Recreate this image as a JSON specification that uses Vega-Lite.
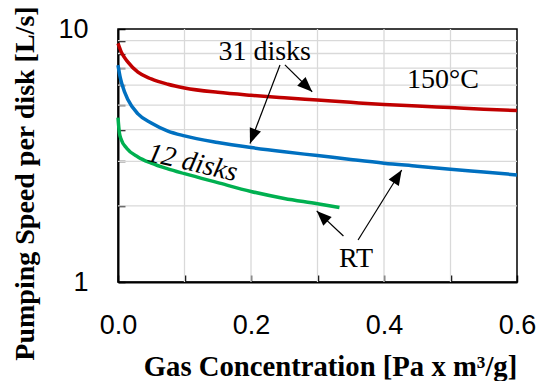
{
  "$schema": "https://vega.github.io/schema/vega-lite/v6.json",
  "width": 399,
  "height": 253,
  "autosize": {"type": "none"},
  "padding": {"left": 118, "top": 29, "right": 22, "bottom": 99},
  "background": "white",
  "config": {
    "view": {"stroke": "black", "strokeWidth": 1.5, "fill": "white"},
    "axis": {
      "grid": false,
      "domainColor": "black",
      "domainWidth": 2,
      "tickColor": "black",
      "tickWidth": 1.5,
      "labelColor": "black",
      "labelFont": "Liberation Sans",
      "labelFontSize": 27,
      "labelOverlap": false,
      "labelFlush": false,
      "titleColor": "black",
      "titleFont": "Liberation Serif",
      "titleFontWeight": "bold"
    }
  },
  "datasets": {
    "gridx": [{"g": 0.1}, {"g": 0.2}, {"g": 0.3}, {"g": 0.4}, {"g": 0.5}],
    "gridy": [{"g": 2}, {"g": 3}, {"g": 4}, {"g": 5}, {"g": 6}, {"g": 7}, {"g": 8}, {"g": 9}],
    "curves": [
      {"series": "150°C 31 disks", "x": 0, "s": 8.77},
      {"series": "150°C 31 disks", "x": 0.005, "s": 8.1},
      {"series": "150°C 31 disks", "x": 0.015, "s": 7.4},
      {"series": "150°C 31 disks", "x": 0.03, "s": 6.75},
      {"series": "150°C 31 disks", "x": 0.05, "s": 6.35},
      {"series": "150°C 31 disks", "x": 0.075, "s": 6.05},
      {"series": "150°C 31 disks", "x": 0.1, "s": 5.85},
      {"series": "150°C 31 disks", "x": 0.15, "s": 5.62},
      {"series": "150°C 31 disks", "x": 0.2, "s": 5.47},
      {"series": "150°C 31 disks", "x": 0.25, "s": 5.35},
      {"series": "150°C 31 disks", "x": 0.3, "s": 5.24},
      {"series": "150°C 31 disks", "x": 0.35, "s": 5.13},
      {"series": "150°C 31 disks", "x": 0.4, "s": 5.03},
      {"series": "150°C 31 disks", "x": 0.45, "s": 4.96},
      {"series": "150°C 31 disks", "x": 0.5, "s": 4.89},
      {"series": "150°C 31 disks", "x": 0.55, "s": 4.82},
      {"series": "150°C 31 disks", "x": 0.6, "s": 4.76},
      {"series": "RT 31 disks", "x": 0, "s": 7.2},
      {"series": "RT 31 disks", "x": 0.003, "s": 6.5},
      {"series": "RT 31 disks", "x": 0.006, "s": 6.05},
      {"series": "RT 31 disks", "x": 0.015, "s": 5.25},
      {"series": "RT 31 disks", "x": 0.03, "s": 4.62},
      {"series": "RT 31 disks", "x": 0.05, "s": 4.25},
      {"series": "RT 31 disks", "x": 0.075, "s": 3.95},
      {"series": "RT 31 disks", "x": 0.1, "s": 3.78},
      {"series": "RT 31 disks", "x": 0.15, "s": 3.56},
      {"series": "RT 31 disks", "x": 0.2, "s": 3.4},
      {"series": "RT 31 disks", "x": 0.25, "s": 3.27},
      {"series": "RT 31 disks", "x": 0.3, "s": 3.16},
      {"series": "RT 31 disks", "x": 0.35, "s": 3.05},
      {"series": "RT 31 disks", "x": 0.4, "s": 2.95},
      {"series": "RT 31 disks", "x": 0.45, "s": 2.87},
      {"series": "RT 31 disks", "x": 0.5, "s": 2.79},
      {"series": "RT 31 disks", "x": 0.55, "s": 2.72},
      {"series": "RT 31 disks", "x": 0.6, "s": 2.65},
      {"series": "RT 12 disks", "x": 0, "s": 4.46},
      {"series": "RT 12 disks", "x": 0.002, "s": 3.9},
      {"series": "RT 12 disks", "x": 0.005, "s": 3.65},
      {"series": "RT 12 disks", "x": 0.013, "s": 3.38},
      {"series": "RT 12 disks", "x": 0.03, "s": 3.12},
      {"series": "RT 12 disks", "x": 0.05, "s": 2.95},
      {"series": "RT 12 disks", "x": 0.075, "s": 2.8},
      {"series": "RT 12 disks", "x": 0.1, "s": 2.68},
      {"series": "RT 12 disks", "x": 0.15, "s": 2.47},
      {"series": "RT 12 disks", "x": 0.2, "s": 2.28},
      {"series": "RT 12 disks", "x": 0.25, "s": 2.14},
      {"series": "RT 12 disks", "x": 0.3, "s": 2.04},
      {"series": "RT 12 disks", "x": 0.333, "s": 1.97}
    ],
    "arrows": [
      {"id": "a1", "x": 0.251, "y": 7.21, "x2": 0.292, "y2": 5.65},
      {"id": "a2", "x": 0.2436, "y": 7.21, "x2": 0.1985, "y2": 3.53},
      {"id": "a3", "x": 0.361, "y": 1.466, "x2": 0.4266, "y2": 2.77},
      {"id": "a4", "x": 0.339, "y": 1.52, "x2": 0.2988, "y2": 1.91}
    ],
    "notes": [
      {"text": "31 disks", "x": 0.2206, "y": 7.54},
      {"text": "150°C", "x": 0.4887, "y": 5.83},
      {"text": "RT", "x": 0.358, "y": 1.143}
    ],
    "italic": [
      {"text": "12 disks", "x": 0.112, "y": 2.95}
    ]
  },
  "layer": [
    {
      "data": {"name": "gridx"},
      "mark": {"type": "rule", "color": "#d9d9d9", "strokeWidth": 1.3},
      "encoding": {
        "x": {"field": "g", "type": "quantitative"}
      }
    },
    {
      "data": {"name": "gridy"},
      "mark": {"type": "rule", "color": "#d9d9d9", "strokeWidth": 1.3},
      "encoding": {
        "y": {"field": "g", "type": "quantitative"}
      }
    },
    {
      "data": {"name": "curves"},
      "mark": {"type": "line", "strokeWidth": 3.5, "interpolate": "monotone"},
      "encoding": {
        "x": {
          "field": "x", "type": "quantitative",
          "scale": {"domain": [0, 0.6], "nice": false, "zero": false},
          "axis": {
            "grid": false,
            "tickColor": "black",
            "domainColor": "black",
            "tickCount": 6,
            "tickSize": -7,
            "format": ".1f",
            "labelExpr": "round(datum.value*10)%2==0 ? datum.label : ''",
            "labelBaseline": "alphabetic",
            "labelPadding": 58,
            "title": "Gas Concentration [Pa x m³/g]",
            "titleFontSize": 28.7,
            "titleX": 212,
            "titleY": 93,
            "titleAlign": "center",
            "titleBaseline": "alphabetic"
          }
        },
        "y": {
          "field": "s", "type": "quantitative",
          "scale": {"type": "log", "domain": [1, 10], "nice": false},
          "axis": {
            "grid": false,
            "tickColor": "black",
            "domainColor": "black",
            "tickCount": 10,
            "tickSize": -7,
            "format": "d",
            "labelExpr": "datum.value==1 || datum.value==10 ? datum.label : ''",
            "labelBaseline": "middle",
            "labelAlign": "right",
            "labelPadding": 37,
            "title": "Pumping Speed per disk [L/s]",
            "titleFontSize": 28,
            "titleAngle": 270,
            "titleX": -85,
            "titleY": 154,
            "titleAlign": "center",
            "titleBaseline": "alphabetic"
          }
        },
        "color": {
          "field": "series", "type": "nominal",
          "scale": {"domain": ["150°C 31 disks", "RT 31 disks", "RT 12 disks"], "range": ["#c00000", "#0070c0", "#00b050"]},
          "legend": null
        }
      }
    },
    {
      "data": {"name": "arrows"},
      "mark": {"type": "rule", "color": "black", "strokeWidth": 1.2},
      "encoding": {
        "x": {"field": "x", "type": "quantitative"},
        "y": {"field": "y", "type": "quantitative"},
        "x2": {"field": "x2"},
        "y2": {"field": "y2"}
      }
    },
    {
      "data": {"name": "arrows"},
      "transform": [{"filter": "datum.id == 'a1'"}],
      "mark": {"type": "point", "shape": "M0,0L0.8,2L-0.8,2Z", "filled": true, "color": "black", "opacity": 1, "size": 225, "strokeWidth": 0, "angle": 134},
      "encoding": {
        "x": {"field": "x2", "type": "quantitative"},
        "y": {"field": "y2", "type": "quantitative"}
      }
    },
    {
      "data": {"name": "arrows"},
      "transform": [{"filter": "datum.id == 'a2'"}],
      "mark": {"type": "point", "shape": "M0,0L0.8,2L-0.8,2Z", "filled": true, "color": "black", "opacity": 1, "size": 225, "strokeWidth": 0, "angle": 201},
      "encoding": {
        "x": {"field": "x2", "type": "quantitative"},
        "y": {"field": "y2", "type": "quantitative"}
      }
    },
    {
      "data": {"name": "arrows"},
      "transform": [{"filter": "datum.id == 'a3'"}],
      "mark": {"type": "point", "shape": "M0,0L0.8,2L-0.8,2Z", "filled": true, "color": "black", "opacity": 1, "size": 225, "strokeWidth": 0, "angle": 32},
      "encoding": {
        "x": {"field": "x2", "type": "quantitative"},
        "y": {"field": "y2", "type": "quantitative"}
      }
    },
    {
      "data": {"name": "arrows"},
      "transform": [{"filter": "datum.id == 'a4'"}],
      "mark": {"type": "point", "shape": "M0,0L0.8,2L-0.8,2Z", "filled": true, "color": "black", "opacity": 1, "size": 225, "strokeWidth": 0, "angle": 314},
      "encoding": {
        "x": {"field": "x2", "type": "quantitative"},
        "y": {"field": "y2", "type": "quantitative"}
      }
    },
    {
      "data": {"name": "notes"},
      "mark": {"type": "text", "font": "Liberation Serif", "fontSize": 28, "color": "black", "align": "center", "baseline": "alphabetic"},
      "encoding": {
        "x": {"field": "x", "type": "quantitative"},
        "y": {"field": "y", "type": "quantitative"},
        "text": {"field": "text"}
      }
    },
    {
      "data": {"name": "italic"},
      "mark": {"type": "text", "font": "Liberation Serif", "fontSize": 28, "fontStyle": "italic", "angle": 13, "color": "black", "align": "center", "baseline": "middle"},
      "encoding": {
        "x": {"field": "x", "type": "quantitative"},
        "y": {"field": "y", "type": "quantitative"},
        "text": {"field": "text"}
      }
    }
  ]
}
